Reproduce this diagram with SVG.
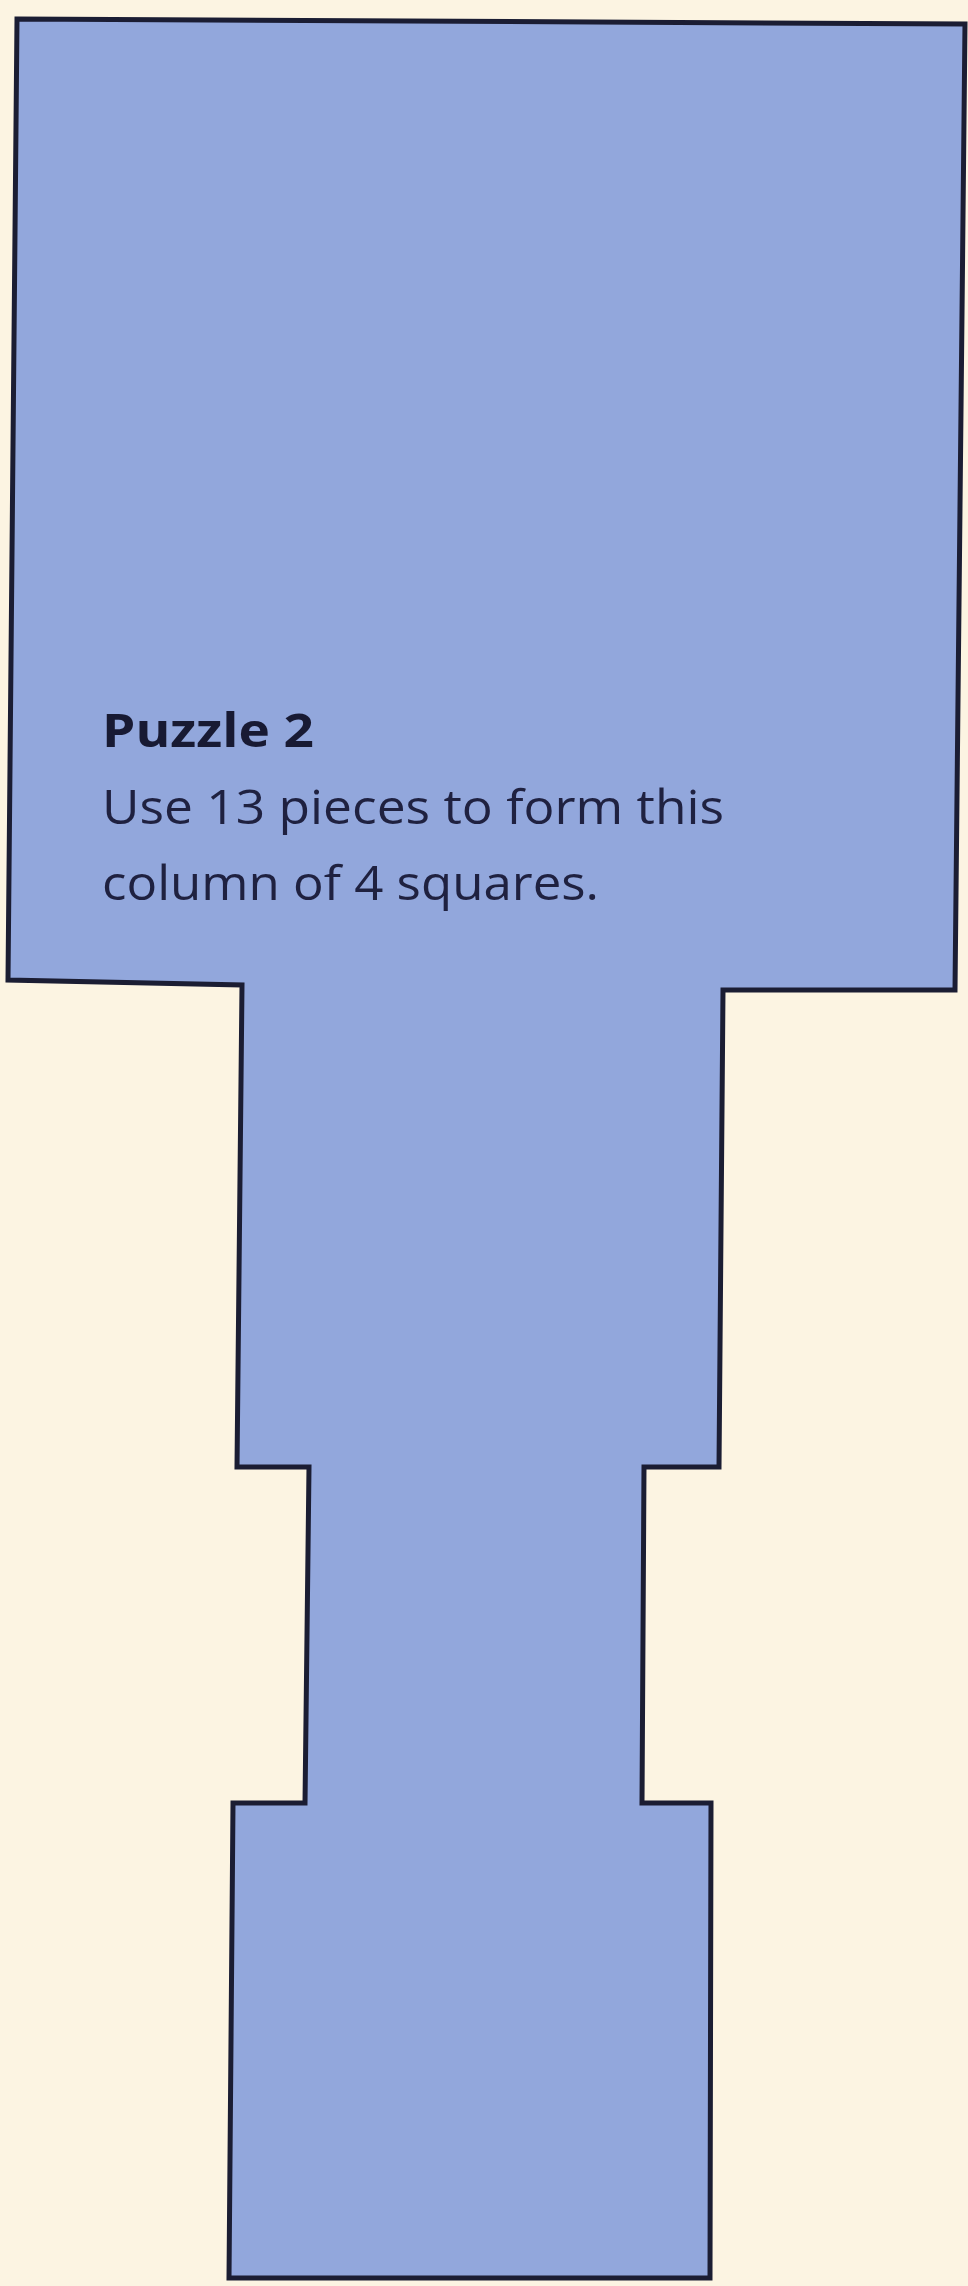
<svg xmlns="http://www.w3.org/2000/svg" width="968" height="2286" viewBox="0 0 968 2286">
<style>
.bg{fill:#fcf4e2}
.shape{fill:#92a7dc;stroke:#1b1d33;stroke-width:5;stroke-linejoin:miter}
.title{font-family:"Open Sans","Liberation Sans",sans-serif;font-weight:700;font-size:47px;fill:#181a33}
.body{font-family:"Open Sans","Liberation Sans",sans-serif;font-weight:400;font-size:48px;fill:#1f2140}
</style>
<rect class="bg" x="0" y="0" width="968" height="2286"/>
<g id="column-shape">
<path class="shape" d="M17,19 L965,24 L955,990 L723,990 L719,1467 L644,1467 L642,1803 L711,1803 L710,2278 L229,2278 L233,1803 L305,1803 L309,1467 L237,1467 L242,985 L8,980 Z"/>
</g>
<g id="caption">
<text class="title" x="102" y="747" textLength="212" lengthAdjust="spacingAndGlyphs">Puzzle 2</text>
<text class="body" x="102" y="824" textLength="622" lengthAdjust="spacingAndGlyphs">Use 13 pieces to form this</text>
<text class="body" x="102" y="900" textLength="497" lengthAdjust="spacingAndGlyphs">column of 4 squares.</text>
</g>
</svg>
